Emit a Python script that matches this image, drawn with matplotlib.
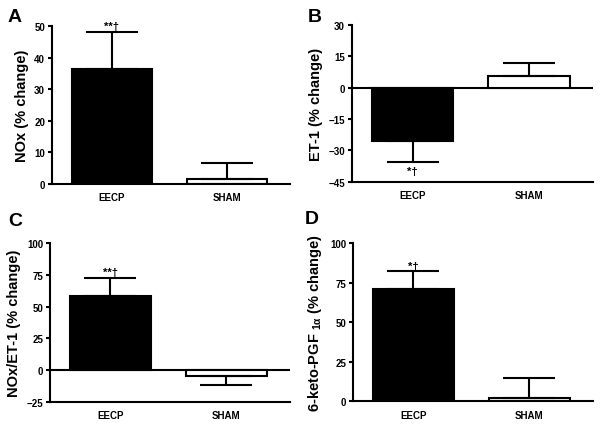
import matplotlib
matplotlib.use("Agg")
import matplotlib.pyplot as plt

plt.rcParams['font.family'] = ['Liberation Sans', 'DejaVu Sans']
plt.rcParams['font.weight'] = 'bold'
plt.rcParams['mathtext.fontset'] = 'custom'
plt.rcParams['mathtext.bf'] = 'Liberation Sans:bold'
plt.rcParams['mathtext.rm'] = 'Liberation Sans:bold'
plt.rcParams['mathtext.it'] = 'Liberation Sans:bold'
plt.rcParams['mathtext.default'] = 'bf'

# data
groups = ["EECP", "SHAM"]
nox = [36.3, 1.6]
nox_err = [11.8, 4.9]
et1 = [-25.5, 5.5]
et1_err = [10.3, 6.4]
ratio = [58.2, -4.7]
ratio_err = [14.7, 7.1]
keto = [71.3, 2.1]
keto_err = [11.0, 12.5]

ylabels = ["NOx (% change)", "ET-1 (% change)", "NOx/ET-1 (% change)",
           r"6-keto-PGF $_{1\alpha}$ (% change)"]
yticks = [[0, 10, 20, 30, 40, 50], [-45, -30, -15, 0, 15, 30],
          [-25, 0, 25, 50, 75, 100], [0, 25, 50, 75, 100]]
letters = ["A", "B", "C", "D"]
stars = ["**\u2020", "*\u2020", "**\u2020", "*\u2020"]

positions = [
    [0.0865, 0.5667, 0.396, 0.370],
    [0.5857, 0.5721, 0.401, 0.3677],
    [0.0832, 0.0569, 0.3993, 0.371],
    [0.5874, 0.0578, 0.3993, 0.370],
]
letter_xy = [(0.013, 0.958), (0.512, 0.958), (0.013, 0.482), (0.507, 0.487)]

fig = plt.figure(figsize=(6.01, 4.27), dpi=100)

panels = [(nox, nox_err), (et1, et1_err), (ratio, ratio_err), (keto, keto_err)]
for i, (vals, errs) in enumerate(panels):
    ax = fig.add_axes(positions[i])
    x = [0, 1]
    ax.bar(x, vals, width=0.7, color=["black", "white"], edgecolor="black",
           linewidth=1.5, zorder=2)
    # one-sided error bars, pointing away from zero
    for xi, v, e in zip(x, vals, errs):
        lower = [e] if v < 0 else [0]
        upper = [e] if v >= 0 else [0]
        ax.errorbar(xi, v, yerr=[lower, upper], color="black", lw=1.5,
                    capsize=19, capthick=1.5, zorder=3)
    yt = yticks[i]
    ax.set_ylim(yt[0], yt[-1])
    ax.set_yticks(yt)
    ax.set_xlim(-0.52, 1.55)
    ax.set_xticks(x)
    ax.set_xticklabels(groups, fontsize=7, fontweight="bold")
    ax.tick_params(axis="x", length=0, pad=6)
    ax.tick_params(axis="y", length=3, width=1.5, labelsize=7, pad=2)
    for lab in ax.get_yticklabels():
        lab.set_fontweight("bold")
    ax.spines["top"].set_visible(False)
    ax.spines["right"].set_visible(False)
    ax.spines["left"].set_linewidth(1.5)
    ax.spines["bottom"].set_linewidth(1.5)
    if yt[0] < 0:
        ax.axhline(0, color="black", lw=1.5, zorder=1)
    ax.set_ylabel(ylabels[i], fontsize=10.5, fontweight="bold", labelpad=4)
    # significance marks
    v, e = vals[0], errs[0]
    span = yt[-1] - yt[0]
    if v >= 0:
        ax.text(0, v + e + span * 0.005, stars[i], ha="center", va="bottom",
                fontsize=8, fontweight="bold")
    else:
        ax.text(0, v - e - span * 0.02, stars[i], ha="center", va="top",
                fontsize=8, fontweight="bold")

for (lx, ly), letter in zip(letter_xy, letters):
    fig.text(lx, ly, letter, fontsize=14, fontweight="bold", va="center")

fig.savefig("out.png", dpi=100)
